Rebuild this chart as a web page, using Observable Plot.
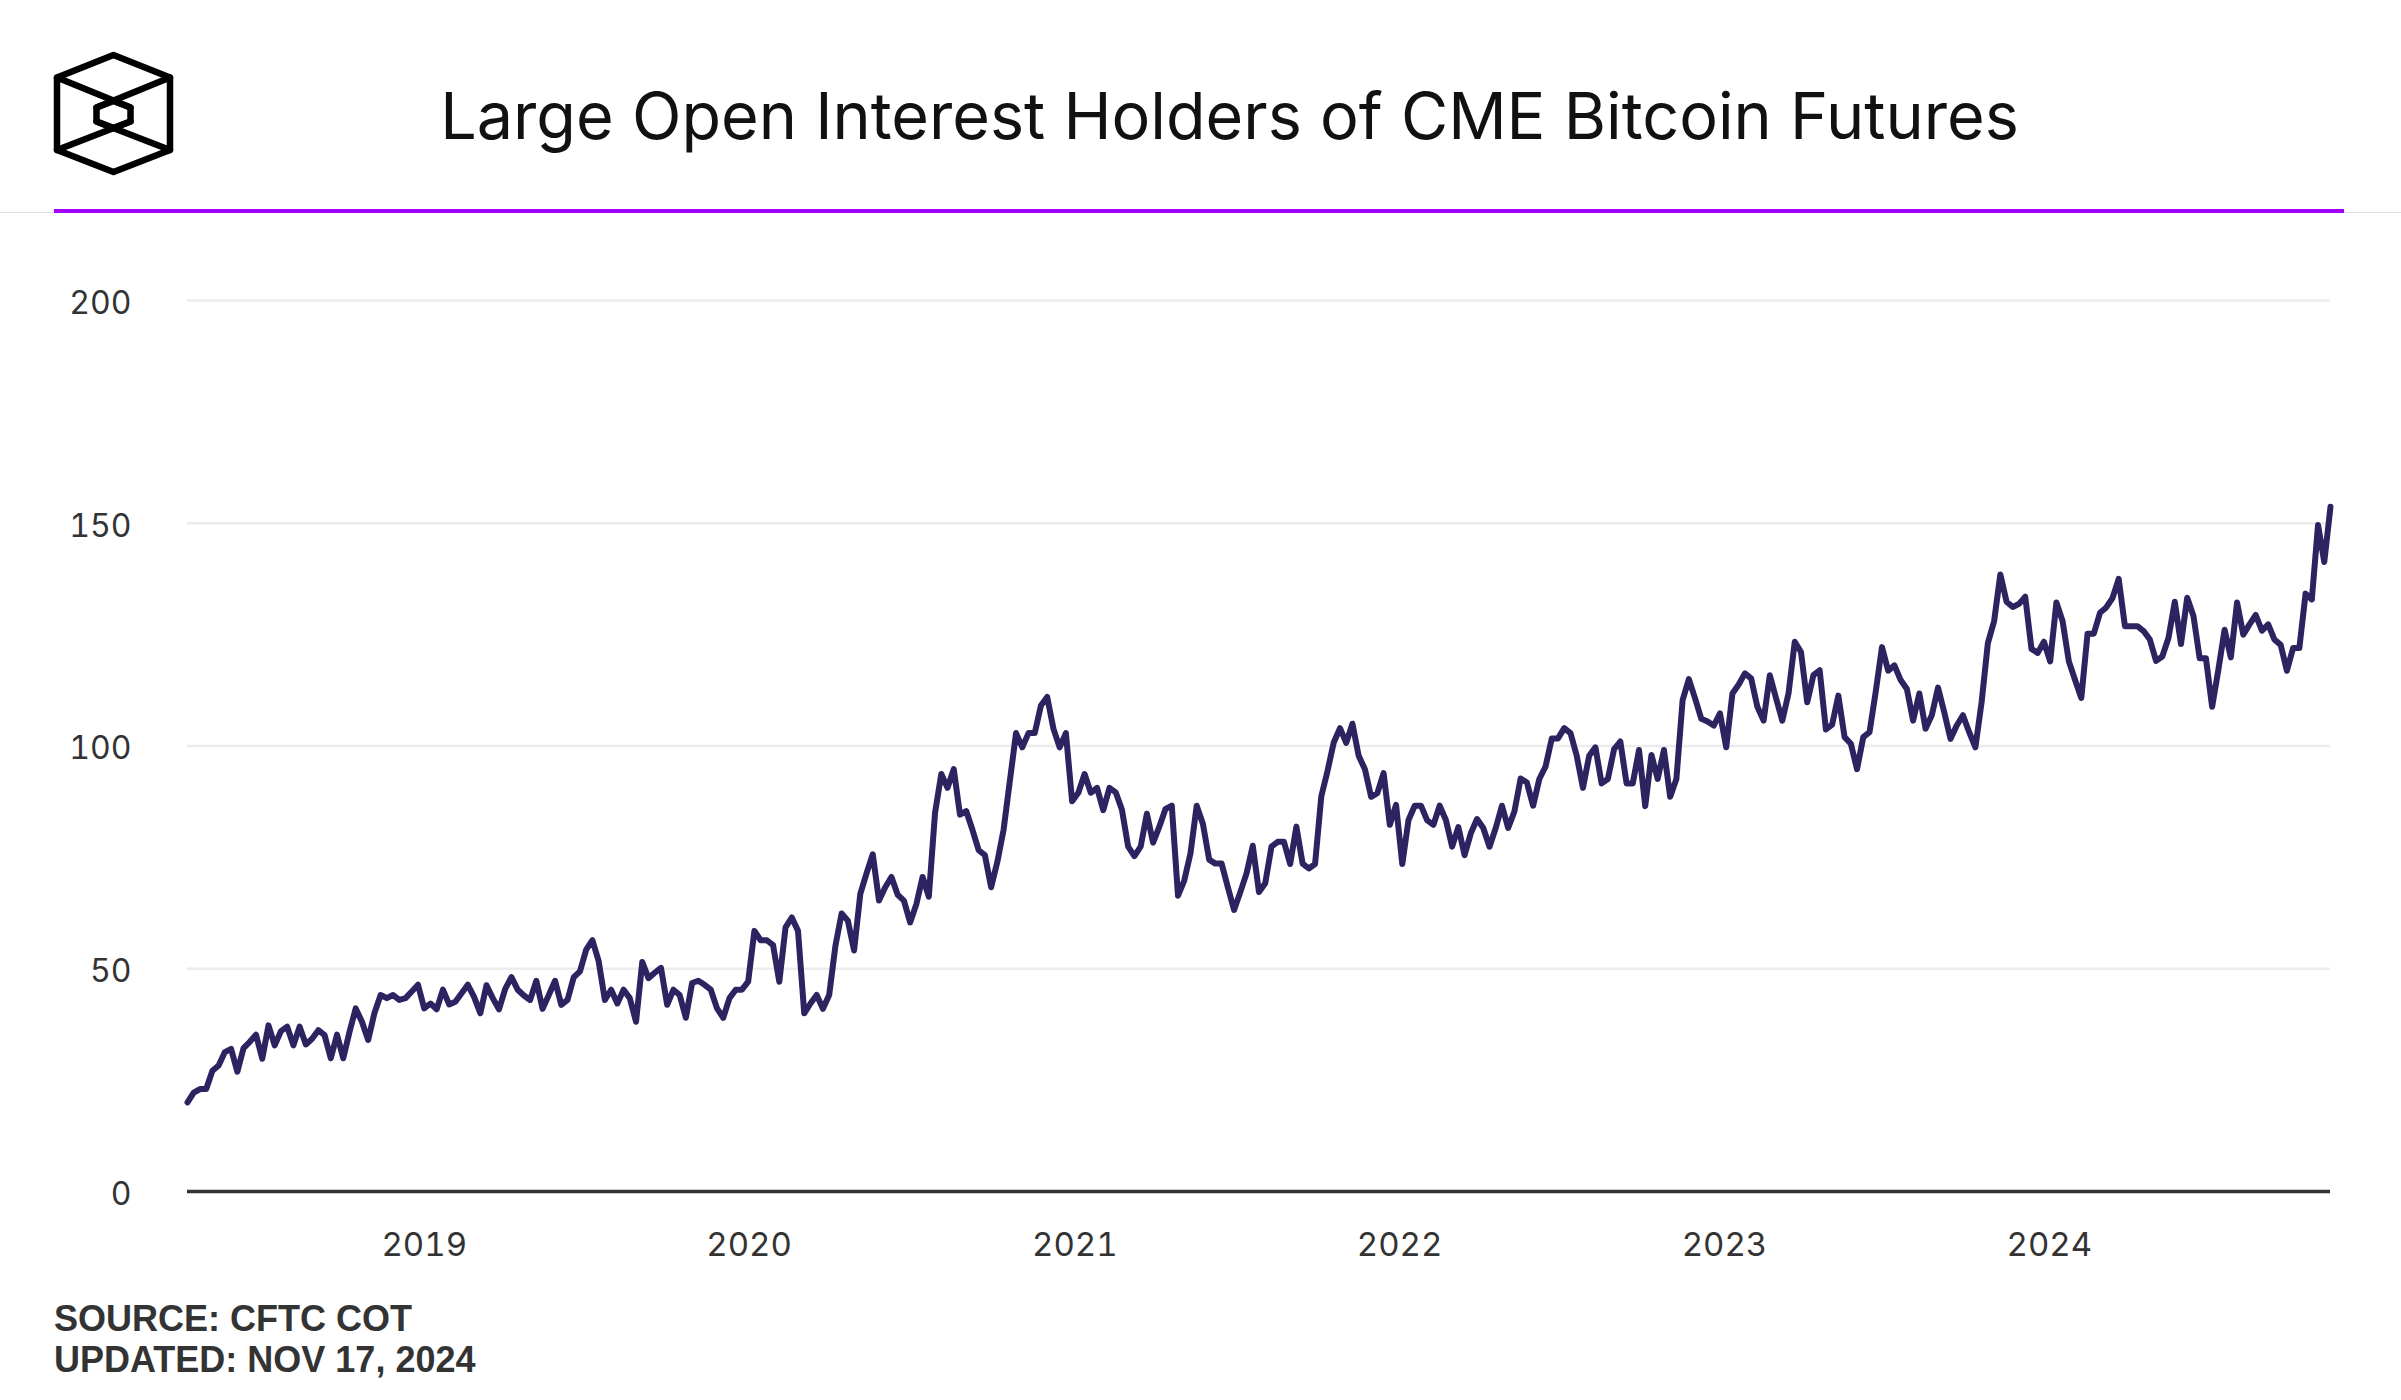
<!DOCTYPE html>
<html>
<head>
<meta charset="utf-8">
<script src="https://cdn.jsdelivr.net/npm/d3@7"></script>
<script src="https://cdn.jsdelivr.net/npm/@observablehq/plot@0.6"></script>
<style>
  html, body { margin: 0; padding: 0; background: #fff; }
  body { width: 2401px; height: 1400px; position: relative; overflow: hidden; font-family: Inter, "Noto Sans", sans-serif; }
  #logo { position: absolute; left: 0; top: 0; }
  #title { position: absolute; left: 0; width: 2459px; top: 84px; text-align: center; font-size: 64.7px; color: #111; font-family: Inter, sans-serif; font-weight: 400; line-height: 1; white-space: nowrap; }
  #rule-light { position: absolute; left: 0; top: 212px; width: 2401px; height: 1px; background: #e4dcec; }
  #rule { position: absolute; left: 54px; top: 209px; width: 2290px; height: 4px; background: #a100ff; }
  #chart { position: absolute; left: 0; top: 230px; }
  #chart text { font-variant-numeric: tabular-nums; }
  #footer { position: absolute; left: 54px; top: 1298px; font-family: "Liberation Sans", Arial, sans-serif; font-weight: 700; font-size: 36px; line-height: 41px; color: #333; }
</style>
</head>
<body>
<svg id="logo" width="220" height="200" viewBox="0 0 220 200">
  <g fill="none" stroke="#000" stroke-width="6.5" stroke-linejoin="round" stroke-linecap="round">
    <polygon points="113.5,55 170,77.5 170,150 113.5,172 57,150 57,77.5"/>
    <polygon points="113.5,101 130.5,107.5 130.5,121.5 113.5,128 96.5,121.5 96.5,107.5"/>
    <line x1="57" y1="77.5" x2="130.5" y2="107.5"/>
    <line x1="170" y1="77.5" x2="96.5" y2="107.5"/>
    <line x1="57" y1="150" x2="130.5" y2="121.5"/>
    <line x1="170" y1="150" x2="96.5" y2="121.5"/>
  </g>
</svg>
<div id="title">Large Open Interest Holders of CME Bitcoin Futures</div>
<div id="rule-light"></div>
<div id="rule"></div>
<div id="chart"></div>
<div id="footer">SOURCE: CFTC COT<br>UPDATED: NOV 17, 2024</div>
<script>
// Weekly CFTC COT report dates (Tuesdays) starting here
const startDate = "2018-04-10";
// Number of large open interest holders, one per week
const holders = [
  20, 22.2, 23, 23, 27.1, 28.3, 31.3, 32, 26.9, 32.2,
  33.6, 35.2, 29.8, 37.3, 32.8, 36, 37, 32.8, 37, 33,
  34.3, 36.2, 35.1, 29.9, 35.2, 29.9, 35.8, 41.1, 38.1, 34,
  40, 44.1, 43.4, 44.1, 43, 43.4, 44.9, 46.4, 41.1, 42.2,
  40.9, 45.3, 42, 42.6, 44.5, 46.4, 43.7, 40, 46.3, 43.4,
  40.9, 45.5, 48.1, 45.3, 44, 43, 47.3, 41, 44.1, 47.3,
  41.9, 43, 48.1, 49.4, 54.3, 56.4, 51.7, 43, 45.3, 42.2,
  45.3, 43.4, 38.1, 51.5, 47.9, 49.1, 50.2, 41.9, 45.3, 44.1,
  39, 46.8, 47.3, 46.4, 45.3, 41.1, 39, 43.4, 45.3, 45.3,
  47.1, 58.5, 56.4, 56.4, 55.3, 47.1, 59.3, 61.5, 58.5, 40,
  42.2, 44.1, 41, 44.1, 55.1, 62.4, 60.8, 54.1, 66.8, 71.4,
  75.7, 65.3, 68.3, 70.6, 66.6, 65.3, 60.4, 64.5, 70.6, 66.2,
  85, 93.7, 90.6, 94.8, 84.6, 85.4, 81.2, 76.6, 75.5, 68.3,
  74, 81.2, 92.1, 102.9, 99.7, 102.9, 102.9, 109.1, 111, 103.9,
  99.7, 102.9, 87.6, 89.5, 93.7, 89.5, 90.6, 85.6, 90.6, 89.6,
  85.7, 77.4, 75.3, 77.4, 84.8, 78.3, 81.9, 85.9, 86.6, 66.4,
  69.8, 75.9, 86.6, 82.5, 74.5, 73.6, 73.6, 68.3, 63.2, 67.2,
  71.4, 77.6, 67.2, 69.2, 77.4, 78.5, 78.5, 73.5, 81.9, 73.6,
  72.5, 73.5, 88.7, 94.4, 100.8, 104, 100.7, 105, 97.8, 94.8,
  88.6, 89.4, 93.9, 82.3, 86.8, 73.5, 83.4, 86.6, 86.6, 83.3,
  82.3, 86.6, 83.4, 77.4, 81.8, 75.5, 80.4, 83.6, 81.6, 77.4,
  81.6, 86.6, 81.6, 85.3, 92.7, 91.8, 86.6, 92.6, 95.4, 101.7,
  101.7, 104, 102.9, 97.8, 90.6, 97.8, 99.7, 91.6, 92.6, 99.3,
  101, 91.6, 91.6, 99.1, 86.5, 98, 92.6, 99.1, 88.6, 92.6,
  110.3, 115, 110.7, 106.1, 105.5, 104.6, 107.3, 99.7, 111.8, 113.8,
  116.3, 115.2, 108.8, 105.7, 115.9, 110.7, 105.7, 111.8, 123.4, 121.1,
  109.8, 115.9, 117, 103.7, 104.8, 111.3, 102, 100.5, 94.8, 102,
  103.1, 112.2, 122.2, 116.9, 118.1, 114.8, 112.8, 105.7, 111.8, 103.9,
  106.9, 113.1, 107.6, 101.6, 104.6, 106.9, 103.1, 99.7, 109.9, 123.1,
  128, 138.5, 132.4, 131.2, 131.9, 133.5, 121.8, 120.9, 123.4, 119,
  132.2, 128, 119, 114.8, 110.8, 125.2, 125.2, 129.9, 131.1, 133.2,
  137.5, 126.9, 126.9, 126.9, 125.8, 123.9, 119.1, 120.1, 124.3, 132.4,
  122.9, 133.3, 129.2, 119.7, 119.7, 108.8, 117.1, 126.1, 119.9, 132.2,
  125, 127.3, 129.4, 125.9, 127.3, 123.9, 122.7, 116.9, 122, 122,
  134.2, 132.9, 149.6, 141.3, 153.7
];
const yTicks = [0, 50, 100, 150, 200];
const xTickYears = ["2019", "2020", "2021", "2022", "2023", "2024"];

const start = new Date(startDate + "T00:00:00Z");
const rows = holders.map((v, i) => ({date: d3.utcDay.offset(start, 7 * i), value: v}));
const xTicks = xTickYears.map(y => new Date(y + "-01-01T00:00:00Z"));

const chart = Plot.plot({
  width: 2401,
  height: 1050,
  marginLeft: 187,
  marginRight: 71,
  marginTop: 70,
  marginBottom: 89,
  style: {background: "transparent", color: "#333", fontFamily: "Inter, sans-serif"},
  x: {type: "utc", domain: [rows[0].date, rows[rows.length - 1].date]},
  y: {domain: [0, 200]},
  marks: [
    Plot.gridY(yTicks.filter(d => d > 0), {stroke: "#ececec", strokeOpacity: 1, strokeWidth: 2.5}),
    Plot.axisY(yTicks, {tickSize: 0, tickPadding: 56, fontSize: 32, fill: "#333", dy: 3, label: null}),
    Plot.axisX(xTicks, {tickSize: 0, tickPadding: 41, fontSize: 33, fill: "#333", tickFormat: d3.utcFormat("%Y"), label: null}),
    Plot.ruleY([0], {stroke: "#333", strokeWidth: 3.5}),
    Plot.lineY(rows, {x: "date", y: "value", stroke: "#2b2460", strokeWidth: 6, strokeLinejoin: "round", strokeLinecap: "round"})
  ]
});
document.getElementById("chart").appendChild(chart);
</script>
</body>
</html>
